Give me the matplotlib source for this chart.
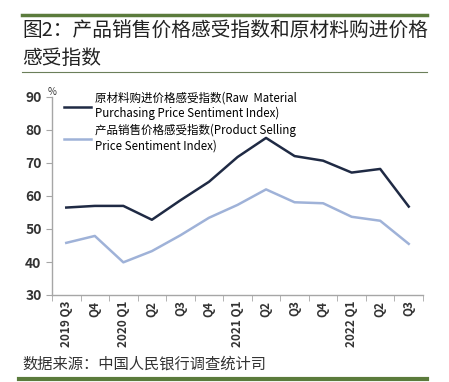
import matplotlib
matplotlib.use("Agg")
import matplotlib.pyplot as plt
import numpy as np

plt.rcParams['font.family'] = ['Noto Sans CJK SC', 'DejaVu Sans']

quarters = ["2019 Q3", "Q4", "2020 Q1", "Q2", "Q3", "Q4", "2021 Q1",
            "Q2", "Q3", "Q4", "2022 Q1", "Q2", "Q3"]
raw_material = [56.5, 57.0, 57.0, 52.8, 58.7, 64.3, 71.8, 77.6, 72.1, 70.7, 67.1, 68.2, 56.8]
product_selling = [45.8, 47.9, 39.9, 43.3, 48.1, 53.4, 57.3, 62.0, 58.1, 57.8, 53.7, 52.5, 45.5]

raw_label = "原材料购进价格感受指数(Raw  Material\nPurchasing Price Sentiment Index)"
sell_label = "产品销售价格感受指数(Product Selling\nPrice Sentiment Index)"

green = "#5b7b3c"
dark = "#1f2a44"
light = "#9fb2d8"
axis_gray = "#a6a6a6"

fig = plt.figure(figsize=(4.49, 3.82), dpi=100)

# 标题和装饰线
fig.add_artist(plt.Line2D([22/449, 427/449], [1 - 15/382] * 2, color=green, lw=2.5))
fig.text(22/449, 1 - 31/382, "图2：产品销售价格感受指数和原材料购进价格",
         fontsize=14.2, fontweight="medium", va="center", ha="left", color="#222222")
fig.text(22/449, 1 - 58/382, "感受指数",
         fontsize=14.2, fontweight="medium", va="center", ha="left", color="#222222")
fig.add_artist(plt.Line2D([22/449, 427/449], [1 - 72/382] * 2, color="#6b7f5a", lw=0.8))

fig.text(22/449, 1 - 364/382, "数据来源：中国人民银行调查统计司",
         fontsize=11, va="center", ha="left", color="#333333")
fig.add_artist(plt.Line2D([19/449, 427/449], [1 - 379/382] * 2, color=green, lw=3))

ax = fig.add_axes([52/449, 1 - 295/382, (423 - 52)/449, (295 - 97)/382])
x = np.arange(len(quarters))
ax.plot(x, raw_material, color=dark, lw=1.8, label=raw_label)
ax.plot(x, product_selling, color=light, lw=1.8, label=sell_label)

ax.set_xlim(-0.5, len(quarters) - 0.5)
ax.set_ylim(30, 90)
ax.set_yticks(range(30, 91, 10))
ax.set_xticks(x)
ax.set_xticklabels(quarters, rotation=90, fontsize=8.5, fontweight="bold", color="#333333")
ax.set_xticks(np.arange(-0.5, len(quarters), 1), minor=True)
ax.tick_params(axis="x", which="major", length=0, pad=4)
ax.tick_params(axis="x", which="minor", length=4, color=axis_gray, direction="out")
ax.tick_params(axis="y", length=4, color=axis_gray, labelsize=10, labelcolor="#333333")
for lbl in ax.get_yticklabels():
    lbl.set_fontweight("bold")

for s in ["top", "right"]:
    ax.spines[s].set_visible(False)
for s in ["left", "bottom"]:
    ax.spines[s].set_color(axis_gray)
    ax.spines[s].set_linewidth(1)

ax.text(0, 1.0, "%", transform=ax.transAxes, fontsize=7, ha="center", va="bottom",
        color="#333333")

leg = ax.legend(loc="upper left", bbox_to_anchor=(0.02, 1.05), frameon=False,
                fontsize=8.3, handlelength=2.3, handletextpad=0.35,
                labelspacing=0.35, borderaxespad=0)

fig.savefig("out.png", dpi=100)
